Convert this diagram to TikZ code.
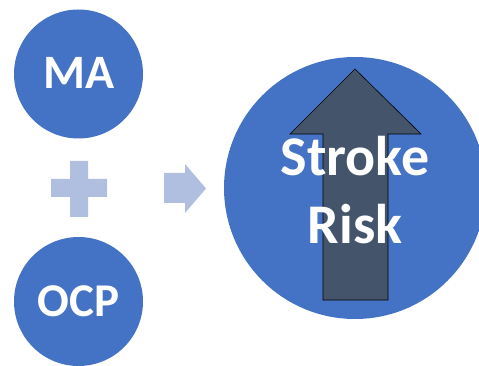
\documentclass[tikz,border=0pt]{standalone}
\usepackage{fontspec}
\setmainfont{Carlito}
\definecolor{circblue}{HTML}{4472C4}
\definecolor{paleblue}{HTML}{B0BEDF}
\definecolor{slate}{HTML}{44546A}
\begin{document}
\begin{tikzpicture}[x=1pt,y=-1pt,
  disc/.style={circle,fill=circblue,inner sep=0pt},
  label/.style={text=white,font=\bfseries},
  pale/.style={fill=paleblue,draw=none}]
\useasboundingbox (0,0) rectangle (479,366);
\clip (0,0) rectangle (479,366);
% left discs
\node[disc,minimum size=129pt] (ma) at (78.5,74) {};
\node[label,font=\bfseries\fontsize{48}{58}\selectfont] (matext) at (79,73) {MA};
\node[disc,minimum size=129pt] (ocp) at (78.5,301.5) {};
\node[label,font=\bfseries\fontsize{47}{58}\selectfont] (ocptext) at (78.5,301) {OCP};
% plus sign
\fill[pale] (70,161) -- (88,161) -- (88,179) -- (107,179) -- (107,197) -- (88,197)
  -- (88,217) -- (70,217) -- (70,197) -- (51,197) -- (51,179) -- (70,179) -- cycle;
% right-pointing arrow
\fill[pale] (164,173) -- (185,173) -- (185,164) -- (206,188.5) -- (185,213)
  -- (185,203) -- (164,203) -- cycle;
% big disc with rising arrow
\node[disc,minimum size=262pt] (risk) at (355,188) {};
\filldraw[fill=slate,draw=black,line width=0.6pt]
  (355,69) -- (421,134) -- (388,134) -- (388,300) -- (323,300) -- (323,134)
  -- (290,134) -- cycle;
\node[label,align=center,font=\bfseries\fontsize{56}{68}\selectfont] (risktext)
  at (355,190) {Stroke\\Risk};
\end{tikzpicture}
\end{document}
